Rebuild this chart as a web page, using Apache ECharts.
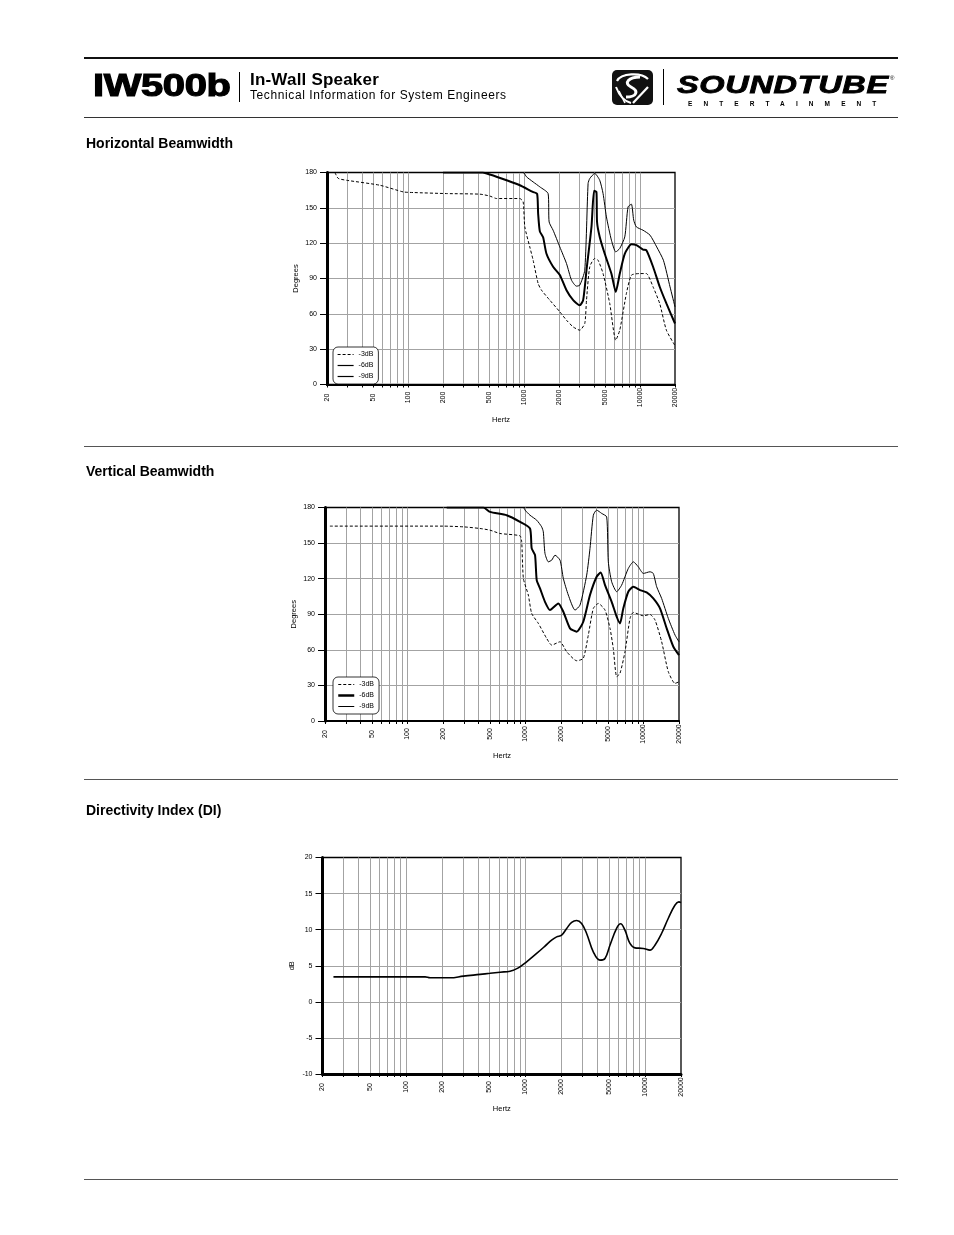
<!DOCTYPE html>
<html>
<head>
<meta charset="utf-8">
<script src="https://cdn.jsdelivr.net/npm/echarts@6/dist/echarts.min.js"></script>
<style>
  html, body { margin:0; padding:0; background:#fff; }
  body { width:954px; height:1235px; position:relative; overflow:hidden; font-family:"Liberation Sans", Arial, sans-serif; color:#000; }
  #c { position:absolute; left:0; top:0; width:954px; height:1235px; }
  .abs { position:absolute; white-space:nowrap; }
  .rule { position:absolute; left:84px; width:814px; background:#333; }
  .title { position:absolute; left:86px; font-weight:bold; font-size:14px; line-height:14px; }
</style>
</head>
<body>
<div id="c"></div>

<div class="rule" style="top:57px;height:2px;background:#111;"></div>
<div class="rule" style="top:117px;height:1px;"></div>
<div class="rule" style="top:446px;height:1px;background:#555;"></div>
<div class="rule" style="top:779px;height:1px;background:#555;"></div>
<div class="rule" style="top:1179px;height:1px;background:#555;"></div>

<div class="abs" style="left:93px;top:70px;font-family:'Liberation Sans';font-weight:bold;font-size:30.5px;line-height:30px;letter-spacing:-0.3px;transform:scaleX(1.31);transform-origin:0 0;-webkit-text-stroke:1.1px #000;">IW500b</div>
<div class="abs" style="left:239px;top:72px;width:1px;height:30px;background:#000;"></div>
<div class="abs" style="left:250px;top:72px;font-weight:bold;font-size:17px;line-height:16px;letter-spacing:0.2px;">In-Wall Speaker</div>
<div class="abs" style="left:250px;top:90px;font-size:12px;line-height:11.5px;letter-spacing:0.6px;">Technical Information for System Engineers</div>

<svg class="abs" style="left:611px;top:69px;" width="44" height="38" viewBox="0 0 44 38">
  <rect x="1" y="1" width="41" height="35" rx="5" ry="5" fill="#111"/>
  <path d="M6 12 C 10 4, 30 3, 37 10" stroke="#fff" stroke-width="2.2" fill="none"/>
  <path d="M29 8 C 18 8, 12 14, 20 18 C 28 22, 26 28, 15 28" stroke="#fff" stroke-width="3" fill="none"/>
  <path d="M5 18 C 8 26, 12 32, 20 34" stroke="#fff" stroke-width="2" fill="none"/>
  <path d="M22 34 L 37 18" stroke="#fff" stroke-width="2.2" fill="none"/>
  <path d="M8 22 L 14 34" stroke="#fff" stroke-width="1.6" fill="none"/>
</svg>
<div class="abs" style="left:663px;top:69px;width:1px;height:36px;background:#000;"></div>
<div class="abs" style="left:677px;top:74px;font-family:'Liberation Sans';font-weight:bold;font-style:italic;font-size:23px;line-height:23px;letter-spacing:0.5px;transform:scaleX(1.41);transform-origin:0 0;-webkit-text-stroke:0.8px #000;">SOUNDTUBE</div>
<div class="abs" style="left:890px;top:75px;font-size:6px;line-height:6px;">®</div>
<div class="abs" style="left:688px;top:100.5px;font-weight:bold;font-size:6.5px;line-height:6.5px;letter-spacing:11.1px;">ENTERTAINMENT</div>

<div class="title" style="top:135.5px;">Horizontal Beamwidth</div>
<div class="title" style="top:463.5px;">Vertical Beamwidth</div>
<div class="title" style="top:803px;">Directivity Index (DI)</div>

<script>
// ---------- data ----------
const gridFreqs = [20,30,40,50,60,70,80,90,100,200,300,400,500,600,700,800,900,1000,2000,3000,4000,5000,6000,7000,8000,9000,10000,20000];
const labelFreqs = [20,50,100,200,500,1000,2000,5000,10000,20000];
const legendNames = { h3:'-3dB', h6:'-6dB', h9:'-9dB', v3:'-3dB', v6:'-6dB', v9:'-9dB' };

// Horizontal beamwidth
const hFreq3 = [23.4,25,29.5,57,91,111,215,416,507,579,919,982,1015,1120,1197,1322,1413,1667,2033,2321,2650,3021,3335,3452,3683,4066,4345,4797,5476,6169,6680,7623,8420,9930,11330,12940,14760,16860,20000];
const hDeg3  = [180,175,173.4,169.2,163.5,163,162.1,161.6,160,157.9,157.9,155,133.8,116.8,105.5,85.7,80.1,71.6,61.7,54.6,48.9,46.1,51.8,71.6,99.9,107,105.5,94.2,68.8,37.6,46.1,77.3,92.8,94.2,94.2,82.9,68.8,46.1,33];
const hFreq6 = [200,440,507,706,919,1189,1295,1322,1367,1459,1560,1779,2033,2321,2650,3021,3230,3452,3812,4011,4205,4256,4489,4958,5663,6169,6680,7380,8420,9296,10600,11330,12940,14760,16860,20000];
const hDeg6  = [180,180,178.3,173.4,169.2,163.5,162,145,130,125,111,100,93,80,71.6,67.3,71.6,97,134,164.4,163.5,138,125.3,111,94,78.6,94,111,119,118.3,114.6,114,100,83,68.8,51.8];
const hFreq9 = [200,982,1050,1197,1367,1611,1644,1779,2033,2321,2563,2826,3021,3335,3563,3683,4066,4489,4797,5128,5663,6169,6680,7380,7876,8420,8815,9296,10600,12180,13910,15890,18120,20000];
const hDeg9  = [180,180,176.3,172,167.8,162.1,138,131,116.8,102.7,88.6,83.5,84.3,97,170.7,174.9,179.2,173.4,162.1,142.3,122.5,112.6,115.5,125.3,150.8,153.1,139.5,133.8,131,126.8,116.8,105.5,82.9,65.9];

// Vertical beamwidth
const vFreq3 = [22,201,297,412,500,608,899,929,960,1057,1129,1285,1513,1668,1963,2234,2716,3090,3409,3759,4143,4721,5205,5548,5929,6325,6974,7690,8204,9978,11360,12530,14260,16230,18500,20000];
const vDeg3  = [164.3,164.3,163.7,162.3,160.9,158.1,156.1,151.1,120.2,106.2,90.7,82.3,69.6,64,66.8,58.4,50.8,52.8,72.5,94.9,99.1,93.5,78.1,61.2,37.4,40.2,58.4,86.5,91.5,88.7,89.8,85.1,66.8,41.6,31.7,33.1];
const vFreq6 = [215,440,500,693,899,1092,1129,1205,1245,1328,1463,1613,1897,2093,2384,2716,3090,3522,4009,4335,4721,5375,5929,6325,6742,7435,8204,9338,10640,12110,13800,15730,17920,20000];
const vDeg6  = [180,180,176.3,173.5,167.9,162.3,145.5,139.8,118.8,111.8,100.5,93.5,99.1,92.1,78.1,75.3,83.7,106.2,121.6,125.2,114.6,100.5,87.9,82.3,94.9,109,113.2,110.4,108.4,103.3,94.9,78.1,62.6,55.6];
const vFreq9 = [215,960,991,1092,1245,1371,1416,1463,1562,1668,1779,1963,2093,2306,2630,2898,3302,3522,3759,4009,4425,4878,5035,5375,5929,6534,7435,8204,9040,9978,11360,12110,12940,14260,16230,18500,20000];
const vDeg9  = [180,180,177.8,173.5,169.3,163.7,159.5,141.3,134.2,135.6,139.8,135.6,120.2,106.2,93.5,97.7,123,145.5,173.5,177.8,175,172.1,134.2,117.4,109,114.6,128.6,134.2,130,124.4,125.8,124.4,113.2,103.3,86.5,72.5,66.8];

// Directivity index
const dFreq = [24.7,144.5,159,234,302,416,505,612,742,871,1021,1239,1456,1653,1821,2005,2209,2433,2675,2946,3245,3690,4197,4623,5087,5781,6243,6790,7480,8225,9660,10990,12100,13750,15630,17780,19190,20000];
const dVal  = [3.46,3.46,3.33,3.33,3.56,3.8,3.95,4.11,4.25,4.71,5.54,6.7,7.72,8.55,9.0,9.24,10.17,11.0,11.27,10.86,9.47,6.93,5.78,6.01,7.85,10.17,10.81,9.93,8.09,7.48,7.4,7.16,7.85,9.47,11.55,13.39,13.85,13.75];

// ---------- chart ----------
const FONT = 'Liberation Sans';
const GRID_COLOR = '#a3a3a3';
const zip = (a, b) => a.map((v, i) => [v, b[i]]);

function xAxisFor(gi, bottomWidth) {
  return {
    type: 'log', logBase: 10, min: 20, max: 20000, gridIndex: gi,
    axisLine: { show: true, onZero: false, lineStyle: { color: '#000', width: bottomWidth } },
    axisTick: { show: true, customValues: gridFreqs, length: 3, lineStyle: { color: '#000', width: 1 } },
    axisLabel: { customValues: labelFreqs, rotate: 90, fontSize: 7, color: '#000', fontFamily: FONT,
                 margin: 13, align: 'center', verticalAlign: 'middle',
                 formatter: v => String(Math.round(v)) },
    splitLine: { show: true, showMinLine: false, showMaxLine: false, lineStyle: { color: GRID_COLOR, width: 1 } },
    minorTick: { show: false }, minorSplitLine: { show: false },
    name: 'Hertz', nameLocation: 'middle', nameGap: 31,
    nameTextStyle: { fontSize: 7.5, color: '#000', fontFamily: FONT }
  };
}
function yAxisFor(gi, min, max, interval, name) {
  return {
    type: 'value', gridIndex: gi, min: min, max: max, interval: interval,
    axisLine: { show: true, onZero: false, lineStyle: { color: '#000', width: 3 } },
    axisTick: { show: true, length: 7, lineStyle: { color: '#000', width: 1 } },
    axisLabel: { fontSize: 7, color: '#000', fontFamily: FONT, margin: 10 },
    splitLine: { show: true, showMinLine: false, showMaxLine: false, lineStyle: { color: GRID_COLOR, width: 1 } },
    name: name, nameLocation: 'middle', nameGap: 27,
    nameTextStyle: { fontSize: 7.5, color: '#000', fontFamily: FONT }
  };
}
function legendFor(left, top, names, widths) {
  return {
    data: names.map((n, i) => ({ name: n, lineStyle: { width: widths[i] } })),
    formatter: n => legendNames[n], orient: 'vertical', left: left, top: top,
    itemWidth: 16, itemHeight: 7, itemGap: 4, padding: [4, 5, 4, 4],
    borderColor: '#000', borderWidth: 0.8, borderRadius: 5, backgroundColor: '#fff',
    itemStyle: { color: 'rgba(0,0,0,0)', borderWidth: 0, opacity: 0 },
    selectedMode: false, textStyle: { fontSize: 7, color: '#000', fontFamily: FONT }
  };
}
function lineSeries(name, gi, freqs, vals, width, dashed, smooth) {
  return {
    type: 'line', name: name, xAxisIndex: gi, yAxisIndex: gi,
    data: zip(freqs, vals), symbol: 'none', smooth: smooth, silent: true,
    itemStyle: { color: '#000' },
    lineStyle: { color: '#000', width: width, type: dashed ? [3, 2] : 'solid' },
    z: 3
  };
}

const chart = echarts.init(document.getElementById('c'), null, { renderer: 'canvas' });
const gridCommon = { show: true, borderColor: '#000', borderWidth: 1.3, backgroundColor: 'transparent', containLabel: false, outerBoundsMode: 'none' };
chart.setOption({
  animation: false,
  color: ['#000'],
  grid: [
    Object.assign({ left: 327, top: 172.5, width: 348, height: 212 }, gridCommon),
    Object.assign({ left: 325, top: 507.5, width: 354, height: 213.5 }, gridCommon),
    Object.assign({ left: 322.5, top: 857.5, width: 358.5, height: 216.5 }, gridCommon)
  ],
  xAxis: [ xAxisFor(0, 2), xAxisFor(1, 2), xAxisFor(2, 3) ],
  yAxis: [ yAxisFor(0, 0, 180, 30, 'Degrees'), yAxisFor(1, 0, 180, 30, 'Degrees'), yAxisFor(2, -10, 20, 5, 'dB') ],
  legend: [ legendFor(333, 347, ['h3', 'h6', 'h9'], [1, 1.2, 1.2]), legendFor(333, 677, ['v3', 'v6', 'v9'], [1, 2.5, 1]) ],
  series: [
    lineSeries('h3', 0, hFreq3, hDeg3, 1, true, 0.2),
    lineSeries('h6', 0, hFreq6, hDeg6, 2, false, 0.2),
    lineSeries('h9', 0, hFreq9, hDeg9, 1, false, 0.2),
    lineSeries('v3', 1, vFreq3, vDeg3, 1, true, 0.2),
    lineSeries('v6', 1, vFreq6, vDeg6, 2, false, 0.2),
    lineSeries('v9', 1, vFreq9, vDeg9, 1, false, 0.2),
    lineSeries('di', 2, dFreq, dVal, 1.6, false, 0.4)
  ]
});
</script>
</body>
</html>
